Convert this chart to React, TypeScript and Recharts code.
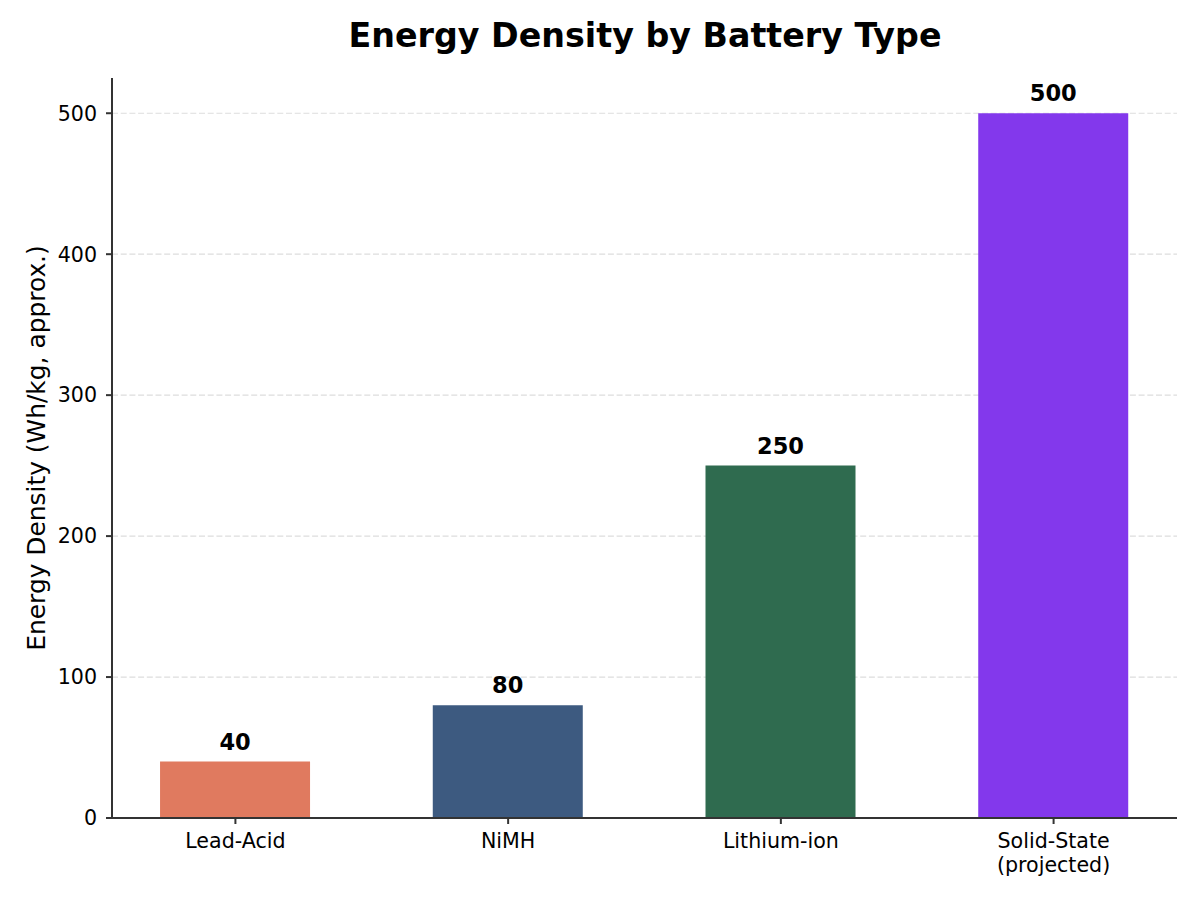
import React from "react";
import { BarChart, Bar, XAxis, YAxis, CartesianGrid, Cell, LabelList } from "recharts";

const categories = ["Lead-Acid", "NiMH", "Lithium-ion", "Solid-State\n(projected)"];
const energyDensity = [40, 80, 250, 500];
const barColors = ["#E07A5F", "#3D5A80", "#2F6B4F", "#8338EC"];
const yTicks = [0, 100, 200, 300, 400, 500];
const xTicks = [0, 1, 2, 3];

const data = categories.map((name, i) => ({ idx: i, name, value: energyDensity[i] }));

const FONT = "'DejaVu Sans', sans-serif";

const XTick = (props: any) => {
  const { x, y, payload } = props;
  const label = categories[payload.value] ?? "";
  const lines = label.split("\n");
  return (
    <g>
      {lines.map((ln: string, i: number) => (
        <text
          key={i}
          x={x}
          y={y + 22 + i * 23.5}
          textAnchor="middle"
          fill="#000"
          fontSize={20.6}
          fontFamily={FONT}
        >
          {ln}
        </text>
      ))}
    </g>
  );
};

const ValueLabel = (props: any) => {
  const { x, y, width, value } = props;
  return (
    <text
      x={x + width / 2}
      y={y - 12}
      textAnchor="middle"
      fill="#000"
      fontSize={22.5}
      fontWeight="bold"
      fontFamily={FONT}
    >
      {value}
    </text>
  );
};

export default function App() {
  return (
    <div style={{ position: "absolute", left: 0, top: 0, width: 1200, height: 900, background: "#fff" }}>
      <BarChart
        width={1200}
        height={900}
        data={data}
        margin={{ top: 78, right: 23, bottom: 0, left: 0 }}
      >
        <CartesianGrid
          vertical={false}
          stroke="#dddddd"
          strokeDasharray="6 2.7"
          strokeWidth={1.2}
          syncWithTicks
        />
        <XAxis
          dataKey="idx"
          type="number"
          domain={[-0.4525, 3.4525]}
          allowDataOverflow
          ticks={xTicks}
          interval={0}
          tick={<XTick />}
          tickSize={6}
          tickLine={{ stroke: "#333", strokeWidth: 2 }}
          axisLine={{ stroke: "#333", strokeWidth: 2 }}
          height={82}
        />
        <YAxis
          type="number"
          domain={[0, 525]}
          allowDataOverflow
          ticks={yTicks}
          interval={0}
          width={112}
          tickSize={6}
          tickMargin={9}
          tick={{ fill: "#000", fontSize: 20.6, fontFamily: FONT }}
          tickLine={{ stroke: "#333", strokeWidth: 2 }}
          axisLine={{ stroke: "#333", strokeWidth: 2 }}
        />
        <Bar dataKey="value" barSize={150} isAnimationActive={false}>
          {data.map((d, i) => (
            <Cell key={d.name} fill={barColors[i]} />
          ))}
          <LabelList dataKey="value" content={<ValueLabel />} />
        </Bar>
      </BarChart>
      <svg
        width={1200}
        height={900}
        style={{ position: "absolute", left: 0, top: 0, pointerEvents: "none" }}
      >
        <text
          x={645}
          y={47}
          textAnchor="middle"
          fill="#000"
          fontSize={33.3}
          fontWeight="bold"
          fontFamily={FONT}
        >
          Energy Density by Battery Type
        </text>
        <text
          transform="translate(45,448) rotate(-90)"
          x={0}
          y={0}
          textAnchor="middle"
          fill="#000"
          fontSize={24.9}
          fontFamily={FONT}
        >
          Energy Density (Wh/kg, approx.)
        </text>
      </svg>
    </div>
  );
}
